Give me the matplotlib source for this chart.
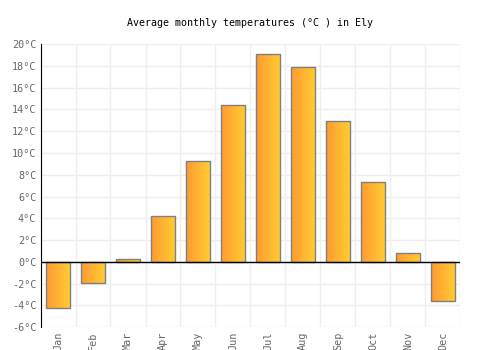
import numpy as np
import matplotlib
matplotlib.use("Agg")
import matplotlib.pyplot as plt
from matplotlib.colors import LinearSegmentedColormap

months = ["Jan", "Feb", "Mar", "Apr", "May", "Jun",
          "Jul", "Aug", "Sep", "Oct", "Nov", "Dec"]
temps = [-4.2, -1.9, 0.3, 4.2, 9.3, 14.4, 19.1, 17.9, 12.9, 7.3, 0.8, -3.6]
yticks = list(range(-6, 21, 2))
ytick_labels = [f"{t}°C" for t in yticks]

plt.rcParams["font.family"] = "DejaVu Sans Mono"

fig = plt.figure(figsize=(5, 3.5), dpi=100)
ax = fig.add_axes([0.081, 0.065, 0.84, 0.809])

x = np.arange(len(months))
bars = ax.bar(x, temps, width=0.66, color="none", edgecolor="#808080",
              linewidth=1, zorder=3)

# horizontal gradient fill for each bar
grad = LinearSegmentedColormap.from_list("g", ["#ff9b30", "#ffcb33"])
g = np.linspace(0, 1, 64).reshape(1, -1)
for b in bars:
    x0, y0 = b.get_x(), b.get_y()
    w, h = b.get_width(), b.get_height()
    im = ax.imshow(g, cmap=grad, aspect="auto", zorder=2,
                   extent=[x0, x0 + w, y0, y0 + h], interpolation="bilinear")
    im.set_clip_path(b)

ax.set_xlim(-0.5, len(months) - 0.5)
ax.set_ylim(-6, 20)
ax.set_yticks(yticks)
ax.set_yticklabels(ytick_labels)
ax.set_xticks(x)
ax.set_xticklabels(months, rotation=90)

for v in yticks:
    ax.axhline(v, color="#eeeeee", lw=1, zorder=0)
for v in np.arange(-0.5, len(months), 1):
    ax.axvline(v, color="#eeeeee", lw=1, zorder=0)
ax.axhline(0, color="black", lw=1, zorder=4)

for s in ["top", "right", "bottom"]:
    ax.spines[s].set_visible(False)
ax.spines["left"].set_color("black")
ax.spines["left"].set_zorder(5)

ax.tick_params(axis="both", which="both", length=0, colors="#666666",
               labelsize=7.3)
ax.tick_params(axis="y", pad=3)
ax.tick_params(axis="x", pad=3)

fig.text(0.5, 0.934, "Average monthly temperatures (°C ) in Ely",
         ha="center", va="center", fontsize=7.2, color="black")

fig.savefig("out.png", dpi=100)
